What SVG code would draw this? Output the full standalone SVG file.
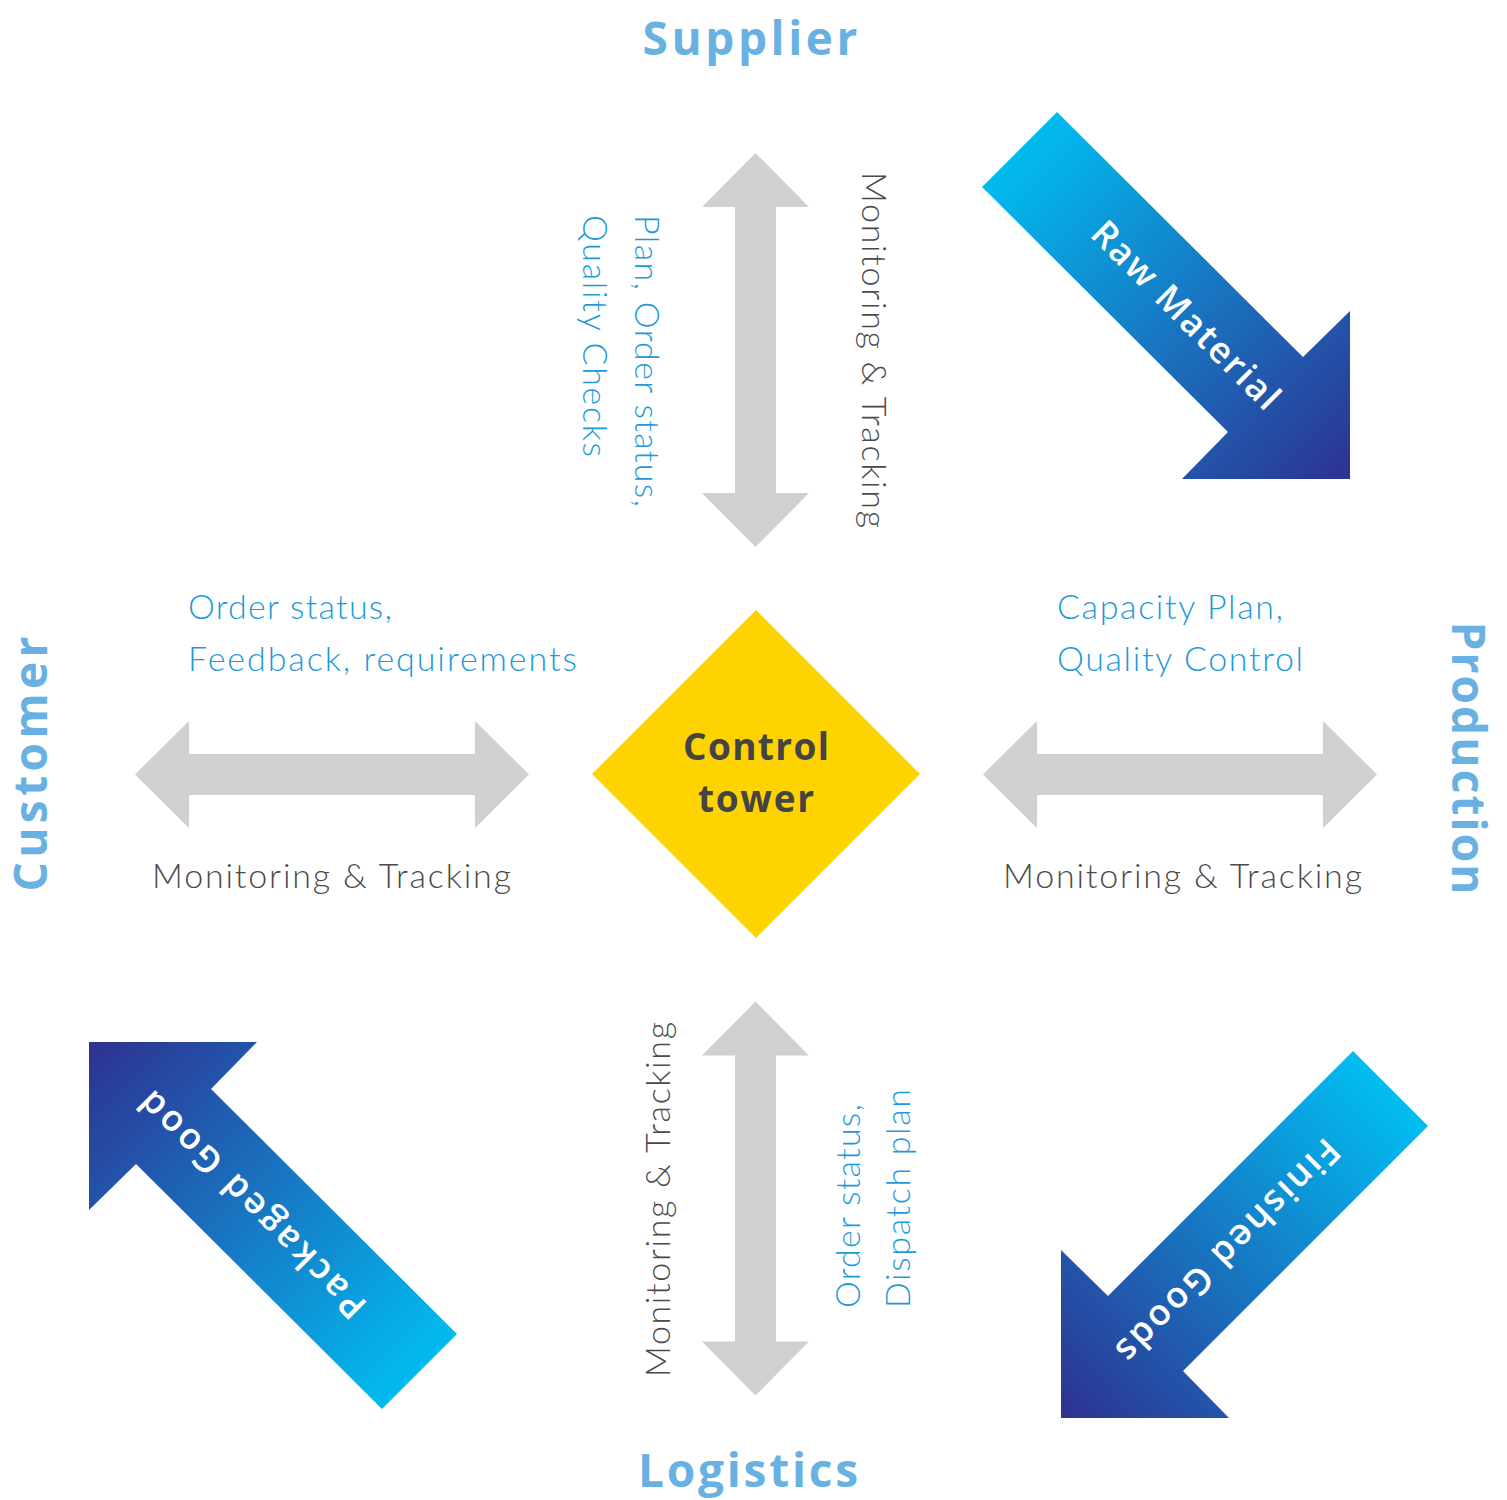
<svg xmlns="http://www.w3.org/2000/svg" xmlns:xlink="http://www.w3.org/1999/xlink" width="1507" height="1500" viewBox="0 0 1507 1500">
<style>
.title{font-family:"Open Sans",Lato,"Liberation Sans",sans-serif;font-weight:700;font-size:46px;fill:#68B1E2}
.cap{font-family:Lato,"Liberation Sans",sans-serif;font-weight:300;font-size:34px;fill:#1E9AD8}
.mon{font-family:Lato,"Liberation Sans",sans-serif;font-weight:300;font-size:34px;fill:#4A4A4A}
.flow{font-family:"Open Sans",Lato,"Liberation Sans",sans-serif;font-weight:600;font-size:36px;fill:#FFFFFF}
.ct{font-family:"Open Sans",Lato,"Liberation Sans",sans-serif;font-weight:700;font-size:37px;fill:#444444}
.dbl{fill:#D0D0D0}
</style>
<defs>
<polygon id="dblv" points="0,-197 53.5,-143 20.5,-143 20.5,143 53.5,143 0,197 -53.5,143 -20.5,143 -20.5,-143 -53.5,-143"/>
<linearGradient id="gRaw" gradientUnits="userSpaceOnUse" x1="1010" y1="140" x2="1350" y2="479">
<stop offset="0" stop-color="#00BFF3"/><stop offset="1" stop-color="#2E3192"/></linearGradient>
<linearGradient id="gFin" gradientUnits="userSpaceOnUse" x1="1400" y1="1090" x2="1061" y2="1418">
<stop offset="0" stop-color="#00BFF3"/><stop offset="1" stop-color="#2E3192"/></linearGradient>
<linearGradient id="gPak" gradientUnits="userSpaceOnUse" x1="89" y1="1042" x2="430" y2="1380">
<stop offset="0" stop-color="#2E3192"/><stop offset="1" stop-color="#00BFF3"/></linearGradient>
</defs>

<g id="supplier"><text class="title" x="750" y="55" text-anchor="middle" textLength="215">Supplier</text></g>
<g id="logistics"><text class="title" x="748" y="1487" text-anchor="middle" textLength="220">Logistics</text></g>
<g id="customer"><text class="title" transform="translate(47,764) rotate(-90)" text-anchor="middle" textLength="255">Customer</text></g>
<g id="production"><text class="title" transform="translate(1452,758) rotate(90)" text-anchor="middle" textLength="273">Production</text></g>

<g id="control-tower">
<polygon points="756,610 920,774 756,938 592,774" fill="#FFD300"/>
<text class="ct" x="756" y="760" text-anchor="middle" textLength="146">Control</text>
<text class="ct" x="756" y="812" text-anchor="middle" textLength="116">tower</text>
</g>

<g id="connectors">
<g id="supplier-link">
<use xlink:href="#dblv" class="dbl" transform="translate(755.5,350)"/>
<text class="mon" transform="translate(862,172) rotate(90)" textLength="356">Monitoring &amp; Tracking</text>
<text class="cap" transform="translate(635,215) rotate(90)" textLength="292">Plan, Order status,</text>
<text class="cap" transform="translate(583,215) rotate(90)" textLength="242">Quality Checks</text>
</g>
<g id="logistics-link">
<use xlink:href="#dblv" class="dbl" transform="translate(755.5,1198.5)"/>
<text class="mon" transform="translate(670,1377) rotate(-90)" textLength="355">Monitoring &amp; Tracking</text>
<text class="cap" transform="translate(860,1308) rotate(-90)" textLength="204">Order status,</text>
<text class="cap" transform="translate(910,1308) rotate(-90)" textLength="219">Dispatch plan</text>
</g>
<g id="customer-link">
<use xlink:href="#dblv" class="dbl" transform="translate(332,774.5) rotate(90)"/>
<text class="cap" x="188" y="619" textLength="204">Order status,</text>
<text class="cap" x="188" y="671" textLength="389">Feedback, requirements</text>
<text class="mon" x="152" y="888" textLength="359">Monitoring &amp; Tracking</text>
</g>
<g id="production-link">
<use xlink:href="#dblv" class="dbl" transform="translate(1180,774.5) rotate(90)"/>
<text class="cap" x="1057" y="619" textLength="226">Capacity Plan,</text>
<text class="cap" x="1057" y="671" textLength="246">Quality Control</text>
<text class="mon" x="1003" y="888" textLength="359">Monitoring &amp; Tracking</text>
</g>
<g id="raw-material">
<polygon points="1057,112 1303,357 1350,311 1350,479 1182,479 1228,432 982,187" fill="url(#gRaw)"/>
<text class="flow" transform="translate(1186,315) rotate(45)" text-anchor="middle" dy="0.35em" textLength="250">Raw Material</text>
</g>
<g id="finished-goods">
<polygon points="1353,1051 1428,1126 1183,1371 1229,1418 1061,1418 1061,1250 1108,1296" fill="url(#gFin)"/>
<text class="flow" transform="translate(1228,1251) rotate(135)" text-anchor="middle" dy="0.35em" textLength="300">Finished Goods</text>
</g>
<g id="packaged-good">
<polygon points="89,1042 257,1042 211,1089 457,1334 382,1409 136,1164 89,1210" fill="url(#gPak)"/>
<text class="flow" transform="translate(252,1205) rotate(-135)" text-anchor="middle" dy="0.35em" textLength="305">Packaged Good</text>
</g>
</g>
</svg>
